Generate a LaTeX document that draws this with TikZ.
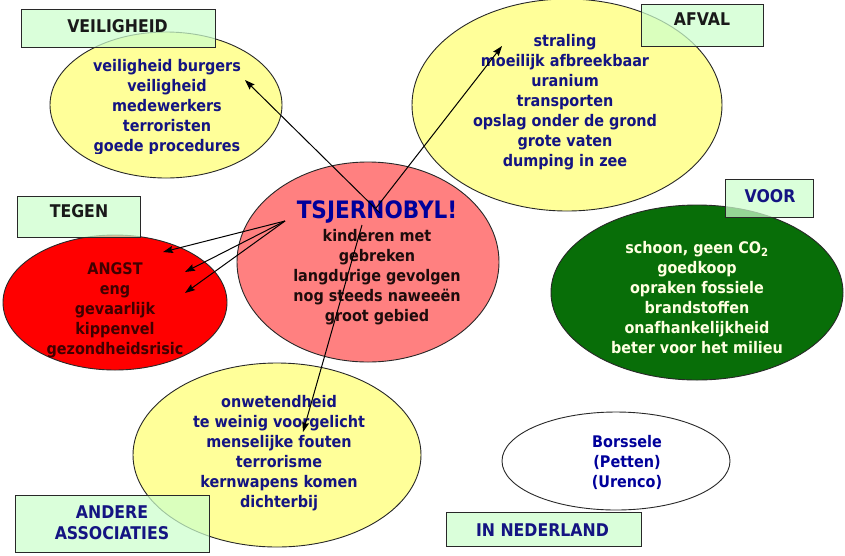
\documentclass[tikz,border=0pt]{standalone}
\usepackage{fontspec}
\setmainfont{DejaVu Sans Condensed}
\usetikzlibrary{arrows.meta,shapes.geometric}
\definecolor{yel}{RGB}{255,255,153}
\definecolor{pinkf}{RGB}{255,128,128}
\definecolor{redf}{RGB}{255,0,0}
\definecolor{greenf}{RGB}{8,110,8}
\definecolor{boxf}{RGB}{204,255,204}
\definecolor{navy}{RGB}{20,20,130}
\definecolor{titleblue}{RGB}{0,0,155}
\definecolor{darktxt}{RGB}{30,12,12}
\definecolor{redtxt}{RGB}{64,0,0}
\definecolor{creamtxt}{RGB}{255,255,225}
\definecolor{outl}{RGB}{40,40,40}
\tikzset{
  ell/.style={ellipse, draw=outl, line width=0.9pt, inner sep=0pt},
  labbox/.style={rectangle, draw=outl, line width=1pt, fill=boxf, fill opacity=0.72, inner sep=0pt},
  boxtxt/.style={font=\bfseries\fontsize{17.5}{21}\selectfont, align=center, inner sep=0pt},
  body/.style={font=\bfseries\fontsize{16}{20}\selectfont, align=center, inner sep=0pt},
  arr/.style={draw=black, line width=1pt, -{Stealth[length=10pt,width=7pt,inset=1.5pt]}}
}
\begin{document}
\begin{tikzpicture}[x=1pt,y=-1pt]
\useasboundingbox[fill=white] (0,0) rectangle (845,555);
% ellipses
\node[ell, fill=yel, minimum width=232pt, minimum height=146pt] (veilE) at (166,105) {};
\node[ell, fill=yel, minimum width=310pt, minimum height=212pt] (afvalE) at (567,105) {};
\node[ell, fill=redf, minimum width=224pt, minimum height=135pt] (tegenE) at (115,302.5) {};
\node[ell, fill=pinkf, minimum width=262pt, minimum height=200pt] (tsjE) at (368,262) {};
\node[ell, fill=greenf, minimum width=292pt, minimum height=175pt] (voorE) at (697,292.5) {};
\node[ell, fill=yel, minimum width=288pt, minimum height=184pt] (andE) at (277,455) {};
\node[ell, fill=white, minimum width=228pt, minimum height=98pt] (nedE) at (616,461) {};
% boxes
\node[labbox, minimum width=194pt, minimum height=38pt] (veilB) at (118,28) {};
\node[labbox, minimum width=122pt, minimum height=42pt] (afvalB) at (702,25) {};
\node[labbox, minimum width=123pt, minimum height=41pt] (tegenB) at (78.5,216.5) {};
\node[labbox, minimum width=88pt, minimum height=38pt] (voorB) at (769,198) {};
\node[labbox, minimum width=194pt, minimum height=57pt] (andB) at (112,523.5) {};
\node[labbox, minimum width=195pt, minimum height=34pt] (nedB) at (543.5,529) {};
% box texts
\node[boxtxt, text=black!90] (veilT) at (117.5,26.5) {VEILIGHEID};
\node[boxtxt, text=black!90] (afvalT) at (702,19) {AFVAL};
\node[boxtxt, text=black!90] (tegenT) at (79,211) {TEGEN};
\node[boxtxt, text=navy] (voorT) at (770,196.5) {VOOR};
\node[boxtxt, text=navy] (andT) at (112,522.5) {ANDERE\\ASSOCIATIES};
\node[boxtxt, text=navy] (nedT) at (542.5,530) {IN NEDERLAND};
% ellipse texts
\begin{scope}
\clip (0,0) rectangle (845,153);
\node[body, text=navy] (veilT2) at (167,107) {veiligheid burgers\\veiligheid\\medewerkers\\terroristen\\goede procedures};
\end{scope}
\node[body, text=navy] (afvalT2) at (565,102) {straling\\moeilijk afbreekbaar\\uranium\\transporten\\opslag onder de grond\\grote vaten\\dumping in zee};
\node[body, text=redtxt] (tegenT2) at (115,310) {ANGST\\eng\\gevaarlijk\\kippenvel\\gezondheidsrisic};
\node[font=\bfseries\fontsize{24}{26}\selectfont, text=titleblue, inner sep=0pt] (tsjT) at (377,212) {TSJERNOBYL!};
\node[body, text=darktxt] (tsjT2) at (377,277) {kinderen met\\gebreken\\langdurige gevolgen\\nog steeds naweeën\\groot gebied};
\node[body, text=creamtxt] (voorT2) at (697,297.5) {schoon, geen CO\textsubscript{2}\\goedkoop\\opraken fossiele\\brandstoffen\\onafhankelijkheid\\beter voor het milieu};
\node[body, text=navy] (andT2) at (279,453) {onwetendheid\\te weinig voorgelicht\\menselijke fouten\\terrorisme\\kernwapens komen\\dichterbij};
\node[body, text=titleblue] (nedT2) at (627,462) {Borssele\\(Petten)\\(Urenco)};
% arrows
\coordinate (aV0) at (380,213);
\coordinate (aV1) at (245,80);
\coordinate (aA0) at (376,208);
\coordinate (aA1) at (502,46);
\coordinate (aD0) at (362,225);
\coordinate (aD1) at (303,432);
\coordinate (aT0) at (285,221);
\coordinate (aT1) at (163,252);
\coordinate (aT2) at (185,272);
\coordinate (aT3) at (185,293);
\draw[arr] (aV0) -- (aV1);
\draw[arr] (aA0) -- (aA1);
\draw[arr] (aD0) -- (aD1);
\draw[arr] (aT0) -- (aT1);
\draw[arr] (aT0) -- (aT2);
\draw[arr] (aT0) -- (aT3);
\end{tikzpicture}
\end{document}
